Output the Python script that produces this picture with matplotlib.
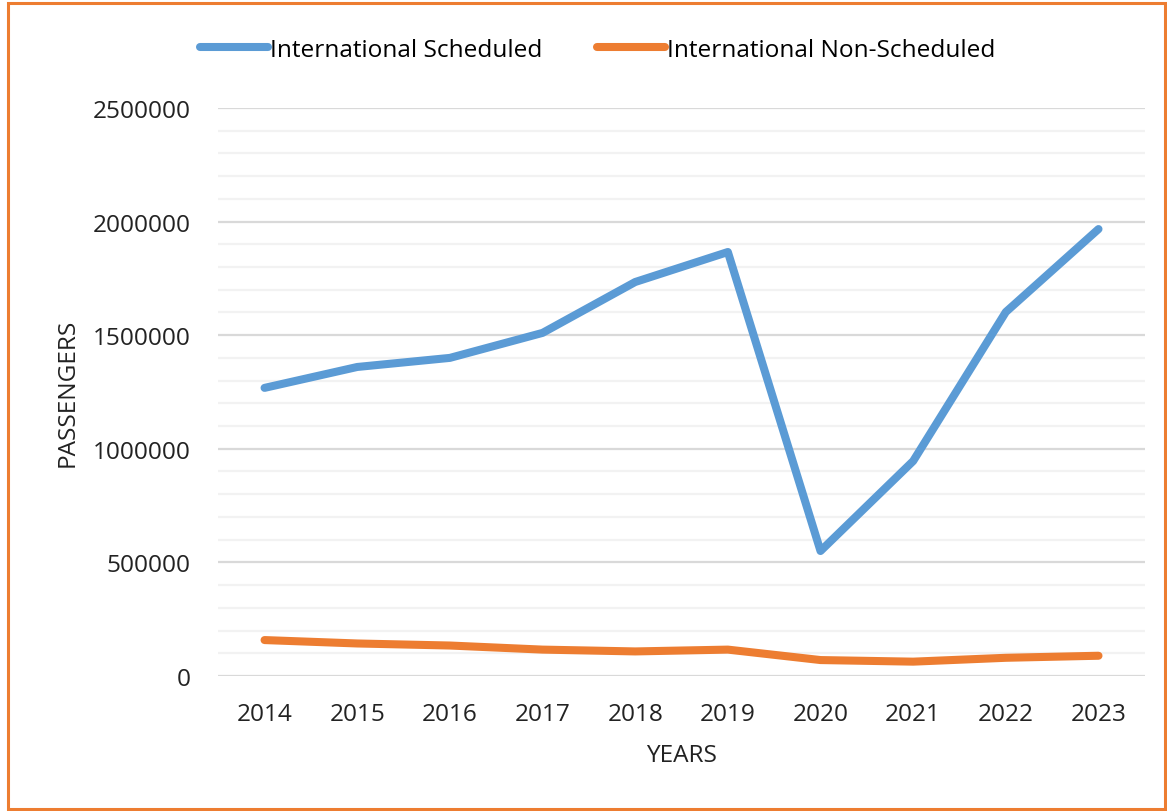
import matplotlib
matplotlib.use("Agg")
import matplotlib.pyplot as plt
from matplotlib.patches import Rectangle
from matplotlib.ticker import MultipleLocator, FuncFormatter

years = ["2014", "2015", "2016", "2017", "2018", "2019", "2020", "2021", "2022", "2023"]
scheduled = [1268000, 1360000, 1400000, 1510000, 1734000, 1866000, 550000, 946000, 1602000, 1967000]
non_scheduled = [158000, 143000, 134000, 116000, 108000, 116000, 70000, 63000, 80000, 89000]

BLUE = "#5B9BD5"
ORANGE = "#ED7D31"

plt.rcParams["font.family"] = ["Open Sans", "DejaVu Sans"]
plt.rcParams["font.size"] = 17.6

fig = plt.figure(figsize=(11.67, 8.12), dpi=100)
ax = fig.add_axes([0.187, 0.1663, 0.794, 0.6995])

x = list(range(len(years)))
ax.plot(x, scheduled, color=BLUE, lw=5.8, solid_capstyle="round",
        solid_joinstyle="round", label="International Scheduled", zorder=3)
ax.plot(x, non_scheduled, color=ORANGE, lw=5.8, solid_capstyle="round",
        solid_joinstyle="round", label="International Non-Scheduled", zorder=3)

ax.set_xlim(-0.5, len(years) - 0.5)
ax.set_ylim(0, 2500000)
ax.set_xticks(x)
ax.set_xticklabels(years)
ax.yaxis.set_major_locator(MultipleLocator(500000))
ax.yaxis.set_minor_locator(MultipleLocator(100000))
ax.yaxis.set_major_formatter(FuncFormatter(lambda v, p: f"{int(round(v))}"))
ax.grid(which="major", axis="y", color="#D9D9D9", lw=1.6, zorder=0)
ax.grid(which="minor", axis="y", color="#F2F2F2", lw=1.6, zorder=0)
for s in ax.spines.values():
    s.set_visible(False)
ax.tick_params(which="both", length=0)
ax.tick_params(axis="y", pad=20, labelcolor="#222222")
ax.tick_params(axis="x", pad=19, labelcolor="#222222")
ax.set_xlabel("YEARS", labelpad=12, color="#222222")
ax.set_ylabel("PASSENGERS", labelpad=9, color="#222222")

fig.legend(loc="upper center", bbox_to_anchor=(0.512, 0.979), ncol=2, frameon=False,
           handlelength=2.8, handletextpad=0.05, columnspacing=2.25)

fig.patches.append(Rectangle((0.007, 0.003), 0.991, 0.992, transform=fig.transFigure,
                             fill=False, edgecolor=ORANGE, lw=2.2))

fig.savefig("out.png", dpi=100)
